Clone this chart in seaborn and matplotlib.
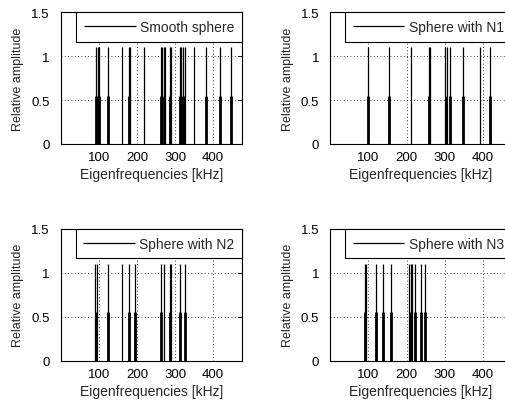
import numpy as np
import pandas as pd
import matplotlib
matplotlib.use('Agg')
import matplotlib.pyplot as plt
import seaborn as sns

# eigenfrequencies (kHz)
titles = ['Smooth sphere', 'Sphere with N1', 'Sphere with N2', 'Sphere with N3']

tall_smooth = [93, 97, 100, 125, 162, 179, 182, 219, 264, 267, 270, 273, 286, 290,
               314, 317, 321, 325, 350, 381, 418, 447]
short_smooth = [93, 97, 100, 125, 179, 264, 270, 288, 314, 318, 323, 381, 418, 447]

tall_n1 = [98, 155, 211, 258, 262, 302, 305, 314, 347, 393, 419]
short_n1 = [98, 155, 260, 303, 314, 347, 419]

tall_n2 = [91, 95, 125, 162, 179, 194, 264, 270, 286, 290, 314, 325]
short_n2 = [93, 125, 179, 194, 264, 288, 314, 325]

tall_n3 = [91, 94, 119, 138, 159, 207, 211, 215, 223, 239, 248]
short_n3 = [92, 119, 138, 159, 209, 223, 239, 248]

tall_amp = 1.1
short_amp = 0.55

xticks = [100, 200, 300, 400]
yticks = [0, 0.5, 1, 1.5]

sns.set_style('white')
plt.rcParams['font.family'] = ['Liberation Sans', 'DejaVu Sans']
plt.rcParams['font.size'] = 9

fig = plt.figure(figsize=(5.06, 4.02), dpi=100)
W, H = 506, 402
boxes = [(60.7, 13.3), (330.3, 13.3), (60.7, 230), (330.3, 230)]
aw, ah = 181, 131.7

tall_sets = [tall_smooth, tall_n1, tall_n2, tall_n3]
short_sets = [short_smooth, short_n1, short_n2, short_n3]

for (x0, y0), title, tall, short in zip(boxes, titles, tall_sets, short_sets):
    ax = fig.add_axes([x0 / W, 1 - (y0 + ah) / H, aw / W, ah / H])
    df_t = pd.DataFrame({'freq': tall, 'amp': tall_amp})
    df_s = pd.DataFrame({'freq': short, 'amp': short_amp})
    ax.vlines(df_t['freq'], 0, df_t['amp'], color='black', lw=0.9, label=title, zorder=3)
    ax.vlines(df_s['freq'], 0, df_s['amp'], color='black', lw=2.0, zorder=3)
    ax.set_xlim(0, 475)
    ax.set_ylim(0, 1.5)
    ax.set_xticks(xticks)
    ax.set_yticks(yticks)
    ax.set_yticklabels(['0', '0.5', '1', '1.5'])
    ax.grid(True, color='black', linestyle=(0, (1, 3)), lw=0.6)
    ax.tick_params(direction='in', length=3, width=0.6, colors='black', labelsize=9.5,
                   top=True, right=True)
    ax.tick_params(axis='y', pad=8)
    ax.tick_params(axis='x', pad=5)
    for s in ax.spines.values():
        s.set_color('black')
        s.set_linewidth(0.8)
    ax.set_xlabel('Eigenfrequencies [kHz]', fontsize=10, labelpad=3)
    ax.set_ylabel('Relative amplitude', fontsize=9, labelpad=5)
    leg = ax.legend(loc='upper right', borderaxespad=0, fancybox=False,
                    handlelength=3.7, handletextpad=0.3, borderpad=0.55, fontsize=10)
    leg.get_frame().set_edgecolor('black')
    leg.get_frame().set_linewidth(0.8)
    leg.get_frame().set_alpha(1)

fig.savefig('out.png', dpi=100)
